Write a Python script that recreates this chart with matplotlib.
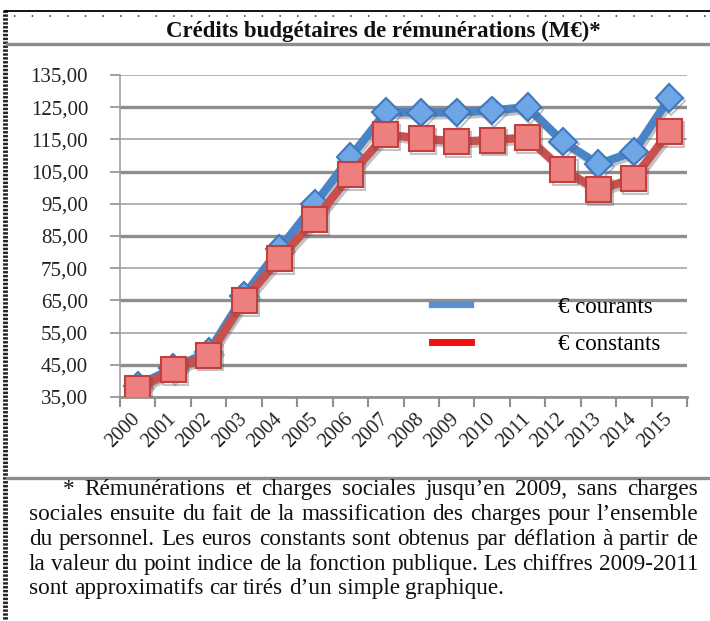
import matplotlib
matplotlib.use('Agg')
import matplotlib.pyplot as plt
import matplotlib.patheffects as pe
from matplotlib.lines import Line2D
import numpy as np

years = ['2000', '2001', '2002', '2003', '2004', '2005', '2006', '2007',
         '2008', '2009', '2010', '2011', '2012', '2013', '2014', '2015']
courants = [38.5, 44.0, 49.0, 66.5, 81.0, 95.0, 109.5, 123.5,
            123.3, 123.4, 124.0, 125.0, 114.3, 107.3, 111.2, 127.8]
constants = [37.5, 43.5, 48.0, 65.0, 78.0, 90.0, 104.0, 116.5,
             115.3, 114.3, 114.8, 115.6, 105.5, 99.3, 102.9, 117.4]
y_ticks = [35, 45, 55, 65, 75, 85, 95, 105, 115, 125, 135]
series_names = ['€ courants', '€ constants']

title = 'Crédits budgétaires de rémunérations (M€)*'
note_lines = [
    '* Rémunérations et charges sociales jusqu’en 2009, sans charges',
    'sociales ensuite du fait de la massification des charges pour l’ensemble',
    'du personnel. Les euros constants sont obtenus par déflation à partir de',
    'la valeur du point indice de la fonction publique. Les chiffres 2009-2011',
    'sont approximatifs car tirés d’un simple graphique.',
]

W, H = 710, 621
serif = 'Liberation Serif'

fig = plt.figure(figsize=(W / 100, H / 100), dpi=100)
fig.patch.set_facecolor('white')


def fx(px):
    return px / W


def fy(py):
    return 1 - py / H


# frame of the box
fig.add_artist(Line2D([fx(5), fx(5)], [fy(10), fy(621)], color='#222222',
                      lw=3.5, ls=(0, (0.5, 0.3))))
fig.add_artist(Line2D([fx(5), fx(710)], [fy(11), fy(11)], color='black', lw=1.3))
fig.add_artist(Line2D([fx(14), fx(710)], [fy(15.5), fy(15.5)], color='#444444',
                      lw=1.3, ls=(0, (0.8, 9))))
fig.add_artist(Line2D([fx(7), fx(710)], [fy(44), fy(44)], color='#8c8c8c', lw=2.4))
fig.add_artist(Line2D([fx(7), fx(710)], [fy(478), fy(478)], color='#8c8c8c', lw=2.4))

fig.text(fx(383), fy(31), title, ha='center', va='center', fontsize=16.5,
         fontweight='bold', family=serif, color='#111111')

# plot area
ax = fig.add_axes([fx(120), fy(397), fx(687) - fx(120), fy(75) - fy(397)])
x = np.arange(len(years))

shadow = [pe.SimpleLineShadow(offset=(1.5, -2), shadow_color='#555555', alpha=0.35),
          pe.Normal()]

ax.plot(x, courants, color='#4a84c8', lw=6, marker='D', markersize=14,
        markerfacecolor='#6ea6e6', markeredgecolor='#3f78bd', markeredgewidth=1.5,
        path_effects=shadow, zorder=3)
ax.plot(x, constants, color='#c9504c', lw=6, marker='s', markersize=18,
        markerfacecolor='#ee7f7f', markeredgecolor='#c0403d', markeredgewidth=1.5,
        path_effects=shadow, zorder=4)

ax.set_xlim(-0.5, len(years) - 0.5)
ax.set_ylim(y_ticks[0], y_ticks[-1])

ax.set_yticks(y_ticks)
ax.set_yticklabels([f'{v:.2f}'.replace('.', ',') for v in y_ticks],
                   family=serif, fontsize=15, color='#222222')
ax.tick_params(axis='y', length=7, width=1.2, color='#909090', pad=16)

ax.set_xticks(np.arange(-0.5, len(years)), minor=False)
ax.set_xticklabels([])
ax.set_xticks(x, minor=True)
ax.set_xticklabels(years, minor=True, rotation=45, ha='right', va='center',
                   rotation_mode='anchor', family=serif, fontsize=14.5,
                   color='#222222')
ax.tick_params(axis='x', which='major', length=7, width=1.5, color='#909090',
               direction='out')
ax.tick_params(axis='x', which='minor', length=0, pad=14)

ax.grid(axis='y', color='#a4a4a4', lw=1.2)
for i, gl in enumerate(ax.get_ygridlines()):
    if i % 2 == 1:
        gl.set_linewidth(2.4)
        gl.set_color('#8e8e8e')
ax.set_axisbelow(True)

for side in ['top', 'right']:
    ax.spines[side].set_visible(False)
ax.spines['left'].set_color('#a0a0a0')
ax.spines['left'].set_linewidth(1.2)
ax.spines['bottom'].set_color('#909090')
ax.spines['bottom'].set_linewidth(2)

handles = [Line2D([], [], color='#5b8fd0', lw=4.5),
           Line2D([], [], color='#f01010', lw=5)]
ax.legend(handles, series_names, loc='upper left',
          bbox_to_anchor=(fx(432), fy(297)), bbox_transform=fig.transFigure,
          frameon=False, prop={'family': serif, 'size': 16.5},
          handlelength=1.7, handletextpad=3.8, labelspacing=0.7,
          borderpad=0, borderaxespad=0)

# justified footnote, font size fitted to the tightest line
fig.canvas.draw()
renderer = fig.canvas.get_renderer()
baselines = [495, 520, 545, 570, 594]
starts = [63, 29, 29, 29, 29]
right = 698
probe = fig.text(0, 0, note_lines[2], family=serif, fontsize=14)
fs = 14 * (right - starts[2]) / probe.get_window_extent(renderer).width * 0.995
probe.remove()
for k, (line, yb, x0) in enumerate(zip(note_lines, baselines, starts)):
    words = line.split(' ')
    texts = [fig.text(0, fy(yb), w, ha='left', va='baseline', family=serif,
                      fontsize=fs, color='#111111') for w in words]
    widths = [t.get_window_extent(renderer).width for t in texts]
    if k < len(note_lines) - 1:
        gap = (right - x0 - sum(widths)) / (len(words) - 1)
    else:
        gap = fs * 0.25 * 100 / 72
    pos = x0
    for t, w in zip(texts, widths):
        t.set_x(fx(pos))
        pos += w + gap

fig.savefig('out.png', dpi=100, facecolor='white')
